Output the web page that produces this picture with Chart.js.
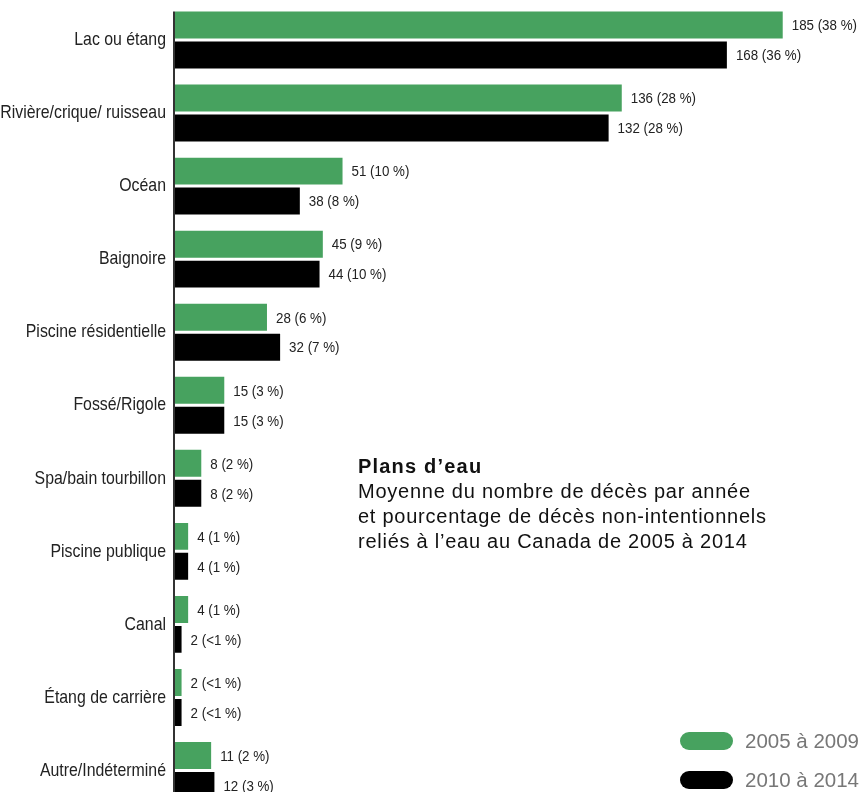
<!DOCTYPE html>
<html><head><meta charset="utf-8">
<script src="https://cdn.jsdelivr.net/npm/chart.js@4.4.0/dist/chart.umd.min.js"></script>
<style>
html,body{margin:0;padding:0;background:#fff;overflow:hidden;width:859px;height:792px;}
#c{position:absolute;left:0;top:0;}
#title{position:absolute;left:358px;top:454px;font-family:"Liberation Sans",Arial,sans-serif;font-size:20px;line-height:25px;color:#111;letter-spacing:0.75px;white-space:nowrap;}
#title b{font-weight:bold;letter-spacing:1.2px;}
.leg{position:absolute;left:680px;font-family:"Liberation Sans",Arial,sans-serif;font-size:20.5px;color:#777;white-space:nowrap;line-height:24px;}
.pill{display:inline-block;width:53px;height:18px;border-radius:9px;vertical-align:middle;margin-right:12px;position:relative;top:-2px;}
</style></head>
<body>
<canvas id="c" width="859" height="807" style="width:859px;height:807px"></canvas>
<div id="title"><b>Plans d’eau</b><br>Moyenne du nombre de décès par année<br>et pourcentage de décès non-intentionnels<br>reliés à l’eau au Canada de 2005 à 2014</div>
<div class="leg" style="top:729px"><span class="pill" style="background:#47a25f"></span>2005 à 2009</div>
<div class="leg" style="top:768px"><span class="pill" style="background:#000"></span>2010 à 2014</div>
<script>
const categories = ["Lac ou étang","Rivière/crique/ ruisseau","Océan","Baignoire","Piscine résidentielle","Fossé/Rigole","Spa/bain tourbillon","Piscine publique","Canal","Étang de carrière","Autre/Indéterminé"];
const seriesNames = ["2005 à 2009","2010 à 2014"];
const values2005 = [185,136,51,45,28,15,8,4,4,2,11];
const pct2005 = ["38","28","10","9","6","3","2","1","1","<1","2"];
const values2010 = [168,132,38,44,32,15,8,4,2,2,12];
const pct2010 = ["36","28","8","10","7","3","2","1","<1","<1","3"];
const colors = ["#47a25f","#000000"];

const LABEL_SX = 0.835;
const VALUE_SX = 0.86;

const customDraw = {
  id:'customDraw',
  afterUpdate(chart){
    const s = chart.scales.y;
    if (s && !s._condensed){
      const orig = s.drawLabels;
      s._computeLabelArea = function(){ return undefined; };
      s.drawLabels = function(area){
        const ctx = this.ctx;
        const x0 = this.right - this.options.ticks.padding;
        ctx.save();
        ctx.translate(x0,0); ctx.scale(LABEL_SX,1); ctx.translate(-x0,0);
        orig.call(this, area);
        ctx.restore();
      };
      s._condensed = true;
    }
  },
  beforeDatasetsDraw(chart){
    const ctx = chart.ctx;
    const first = chart.getDatasetMeta(0).data[0];
    const top = first.y - first.height/2;
    ctx.save();
    ctx.strokeStyle = '#333';
    ctx.lineWidth = 2;
    ctx.beginPath();
    ctx.moveTo(chart.chartArea.left - 1, top);
    ctx.lineTo(chart.chartArea.left - 1, chart.height);
    ctx.stroke();
    ctx.restore();
  },
  afterDatasetsDraw(chart){
    const ctx = chart.ctx;
    ctx.save();
    ctx.font = '15.5px "Liberation Sans",Arial,sans-serif';
    ctx.fillStyle = '#222';
    ctx.textBaseline = 'middle';
    ctx.textAlign = 'left';
    const pcts = [pct2005, pct2010];
    chart.data.datasets.forEach((ds, di) => {
      chart.getDatasetMeta(di).data.forEach((bar, i) => {
        ctx.save();
        ctx.translate(bar.x + 9, bar.y + 1);
        ctx.scale(VALUE_SX,1);
        ctx.fillText(ds.data[i] + ' (' + pcts[di][i] + ' %)', 0, 0);
        ctx.restore();
      });
    });
    ctx.restore();
  }
};

new Chart(document.getElementById('c'), {
  type:'bar',
  data:{
    labels:categories,
    datasets:[
      {label:seriesNames[0], data:values2005, backgroundColor:colors[0], categoryPercentage:0.82, barPercentage:0.9},
      {label:seriesNames[1], data:values2010, backgroundColor:colors[1], categoryPercentage:0.82, barPercentage:0.9}
    ]
  },
  options:{
    indexAxis:'y',
    responsive:false,
    devicePixelRatio:1,
    animation:false,
    layout:{padding:{top:3.5,right:27,bottom:0,left:0}},
    plugins:{legend:{display:false},tooltip:{enabled:false}},
    scales:{
      x:{display:false,min:0,max:200},
      y:{
        afterFit(s){ s.width = 175; s.paddingTop = 0; s.paddingBottom = 0; },
        grid:{display:false, drawTicks:false},
        border:{display:false},
        ticks:{color:'#222',padding:9,font:{family:'"Liberation Sans",Arial,sans-serif',size:19}}
      }
    }
  },
  plugins:[customDraw]
});
</script>
</body></html>
